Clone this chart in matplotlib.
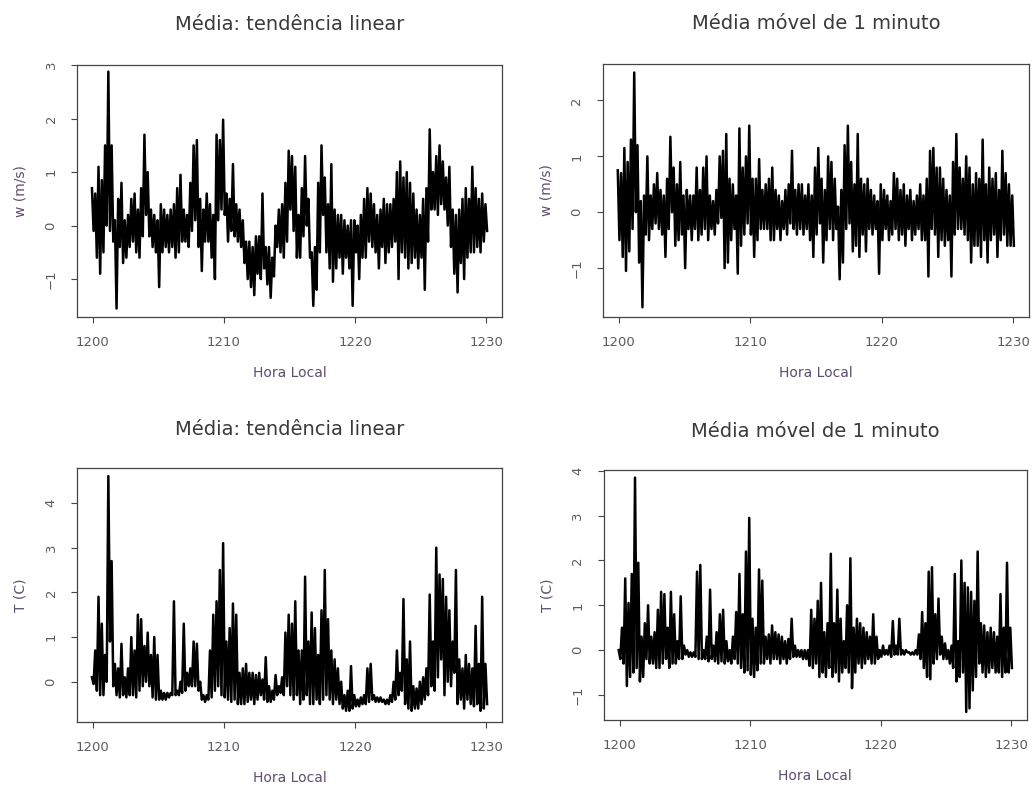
import numpy as np
import matplotlib
matplotlib.use('Agg')
import matplotlib.pyplot as plt

plt.rcParams['font.family'] = ['DejaVu Sans']

# Minutes after 12:00, one sample every 15 s (121 samples)
minutes = np.linspace(0, 30, 121)

# Upper / lower envelope of each series within each 15 s sample
w_lin_hi = [0.7, 0.6, 1.1, 0.85, 1.5, 2.88, 1.5, 0.1, 0.5, 0.8, 0.1, 0.2, 0.5, 0.6, 0.3, 0.7,
            1.7, 1.0, 0.3, 0.2, 0.1, 0.4, 0.3, 0.2, 0.3, 0.4, 0.7, 0.95, 0.3, 0.2, 0.8, 1.5,
            1.6, 0.5, 0.3, 0.6, 0.4, 0.2, 1.7, 1.6, 1.98, 0.6, 0.5, 1.15, 0.4, 0.3, 0.1, -0.3,
            -0.3, -0.4, -0.2, -0.2, 0.6, -0.4, -0.4, -0.6, 0.0, 0.3, 0.4, 0.8, 1.4, 1.3, 1.1, 0.2,
            0.7, 1.3, 0.5, -0.5, -0.4, 0.8, 1.5, 0.9, 0.4, 1.15, 0.3, 0.2, 0.2, 0.1, 0.0, 0.1,
            0.1, 0.0, 0.2, 0.5, 0.7, 0.6, 0.4, 0.2, 0.3, 0.5, 0.4, 0.4, 0.5, 1.0, 1.2, 0.9,
            1.0, 0.8, 0.6, 0.3, 0.2, 0.5, 0.7, 1.8, 1.0, 1.3, 1.5, 1.2, 0.9, 1.1, 0.3, 0.2,
            0.3, 0.5, 0.7, 0.5, 1.1, 0.7, 0.5, 0.6, 0.4]
w_lin_lo = [-0.1, -0.6, -0.9, -0.5, 0.0, -0.1, -0.3, -1.55, -0.4, -0.7, -0.6, -0.4, -0.3, -0.5, -0.6, -0.2,
            0.2, -0.2, -0.4, -0.5, -1.15, -0.5, -0.4, -0.5, -0.4, -0.6, -0.5, -0.3, -0.3, -0.4, -0.1, 0.1,
            -0.4, -0.85, -0.3, -0.3, -0.6, -1.0, 0.1, 0.3, 0.2, -0.3, -0.1, -0.2, -0.3, -0.4, -0.7, -1.0,
            -1.15, -1.3, -0.9, -1.0, -0.8, -1.1, -1.35, -0.95, -0.4, -0.5, -0.6, -0.3, 0.3, -0.1, -0.6, -0.6,
            -0.2, 0.0, -0.6, -1.5, -1.2, -0.5, 0.2, -0.5, -0.8, -1.05, -0.8, -0.6, -0.9, -0.6, -0.8, -1.5,
            -0.5, -1.0, -0.6, -0.6, -0.3, -0.4, -0.5, -0.8, -0.4, -0.7, -0.5, -0.4, -0.3, -1.0, -0.5, -0.6,
            -0.8, -0.7, -0.6, -0.8, -0.6, -1.2, -0.3, 0.3, 0.3, 0.2, 0.4, 0.3, 0.0, -0.4, -0.9, -1.25,
            -0.7, -1.0, -0.6, -0.5, -0.5, -0.4, -0.5, -0.3, -0.1]

w_mm_hi = [0.75, 0.7, 1.15, 0.9, 1.3, 2.5, 1.2, 0.2, 0.3, 1.0, 0.3, 0.5, 0.7, 0.4, 0.3, 0.6,
           1.35, 0.8, 0.5, 0.9, 0.3, 0.4, 0.3, 0.3, 0.8, 0.4, 0.8, 1.0, 0.3, 0.2, 0.4, 1.0,
           1.1, 1.4, 0.6, 0.5, 0.3, 1.5, 0.8, 1.0, 1.55, 0.6, 0.6, 0.95, 0.4, 0.5, 0.6, 0.8,
           0.4, 0.3, 0.2, 0.4, 0.5, 1.1, 0.4, 0.5, 0.5, 0.3, 0.5, 0.3, 0.8, 1.15, 0.6, 0.4,
           1.0, 0.9, 0.6, 0.1, 0.4, 1.2, 1.55, 0.9, 0.5, 1.4, 0.6, 0.5, 0.6, 0.4, 0.3, 0.2,
           0.5, 0.4, 0.3, 0.2, 0.7, 0.6, 0.4, 0.5, 0.3, 0.4, 0.2, 0.3, 0.5, 0.3, 0.6, 1.1,
           1.15, 0.8, 0.8, 0.6, 0.4, 0.3, 0.9, 1.4, 0.8, 0.6, 1.0, 0.8, 0.5, 0.7, 0.6, 1.3,
           0.5, 0.8, 0.6, 0.7, 0.4, 1.1, 0.7, 0.5, 0.3]
w_mm_lo = [-0.5, -0.8, -1.05, -0.7, -0.3, 0.0, -0.9, -1.7, -0.4, -0.5, -0.3, -0.2, -0.3, -0.4, -0.8, -0.3,
           0.0, -0.6, -0.5, -0.4, -1.0, -0.3, -0.5, -0.3, -0.5, -0.4, -0.3, -0.5, -0.3, -0.4, -0.2, -0.1,
           -1.0, -0.9, -0.5, -0.3, -1.1, -0.6, -0.4, -0.2, -0.4, -0.8, -0.5, -0.3, -0.3, -0.3, -0.5, -0.5,
           -0.3, -0.5, -0.3, -0.4, -0.2, -0.3, -0.4, -0.3, -0.4, -0.3, -0.5, -0.8, -0.4, -0.2, -0.9, -0.5,
           -0.3, -0.5, -0.3, -1.2, -0.9, -0.3, -0.2, -0.7, -0.6, -0.8, -0.4, -0.7, -0.3, -0.4, -0.3, -1.1,
           -0.5, -0.3, -0.5, -0.4, -0.3, -0.5, -0.4, -0.6, -0.3, -0.5, -0.4, -0.3, -0.5, -0.5, -1.15, -0.3,
           -0.4, -0.8, -0.5, -0.6, -0.5, -1.15, -0.4, -0.3, -0.3, -0.4, -0.5, -0.9, -0.6, -0.6, -0.8, -0.5,
           -0.9, -0.5, -0.4, -0.8, -0.5, -0.4, -0.6, -0.6, -0.6]

t_lin_hi = [0.1, 0.7, 1.9, 1.3, 0.6, 4.6, 2.7, 0.4, 0.3, 0.85, 0.1, 0.3, 1.0, 0.7, 1.5, 1.4,
            0.8, 1.1, 0.6, 1.0, 0.6, -0.2, -0.25, -0.25, -0.25, 1.8, -0.2, 0.0, 1.3, 0.2, 0.3, 0.9,
            0.85, 0.0, -0.3, -0.3, 0.7, 1.5, 1.8, 2.5, 3.1, 0.9, 1.2, 1.75, 1.5, 0.2, 0.3, 0.4,
            0.2, 0.2, 0.15, 0.2, 0.05, 0.55, -0.1, -0.2, 0.15, -0.1, 0.1, 1.1, 1.5, 1.3, 1.8, 0.7,
            0.7, 2.35, 0.9, 1.55, 1.2, 0.6, 1.6, 2.5, 1.4, 0.7, 0.5, 0.3, 0.0, -0.3, -0.2, 0.35,
            -0.3, -0.4, -0.35, -0.3, 0.3, 0.4, -0.3, -0.35, -0.35, -0.4, -0.4, -0.3, 0.0, 0.7, 0.2, 1.85,
            0.5, 0.9, -0.1, -0.15, 0.0, 0.1, 0.3, 1.95, 0.9, 3.0, 2.4, 2.3, 1.9, 1.6, 0.9, 2.5,
            0.5, 0.3, 0.6, 0.4, 0.3, 1.25, 0.4, 1.9, 0.4]
t_lin_lo = [-0.05, -0.2, -0.3, -0.3, 0.0, 0.9, -0.1, -0.3, -0.35, -0.3, -0.35, -0.3, -0.3, -0.35, -0.2, -0.1,
            0.0, -0.1, -0.35, -0.4, -0.4, -0.4, -0.4, -0.35, -0.3, -0.3, -0.3, -0.25, -0.2, -0.1, -0.1, -0.1,
            -0.2, -0.4, -0.45, -0.4, -0.35, -0.2, -0.1, -0.3, -0.35, -0.4, -0.45, -0.4, -0.5, -0.5, -0.5, -0.45,
            -0.4, -0.5, -0.4, -0.3, -0.4, -0.45, -0.45, -0.4, -0.3, -0.25, -0.3, -0.1, -0.3, -0.4, -0.3, -0.5,
            -0.4, -0.3, -0.5, -0.5, -0.4, -0.5, -0.4, -0.3, -0.4, -0.5, -0.4, -0.5, -0.6, -0.65, -0.65, -0.6,
            -0.55, -0.55, -0.5, -0.5, -0.45, -0.4, -0.45, -0.45, -0.45, -0.5, -0.5, -0.45, -0.4, -0.3, -0.2, -0.5,
            -0.6, -0.65, -0.6, -0.6, -0.5, -0.4, -0.3, -0.1, -0.2, 0.1, 0.5, -0.3, 0.0, -0.1, 0.2, -0.5,
            -0.4, -0.6, -0.4, -0.5, -0.55, -0.5, -0.65, -0.6, -0.5]

t_mm_hi = [0.0, 0.5, 1.6, 1.05, 1.7, 3.85, 1.95, 0.3, 0.6, 1.0, 0.3, 0.4, 0.9, 1.3, 1.25, 0.5,
           1.3, 0.8, 0.2, 1.2, 0.1, 0.0, -0.05, -0.05, 1.75, 1.9, 0.0, 0.3, 1.35, 0.1, 0.4, 0.8,
           0.9, 0.2, 0.0, 0.3, 0.85, 1.7, 0.8, 2.2, 2.95, 0.7, 0.5, 1.8, 1.55, 0.3, 0.35, 0.55,
           0.4, 0.35, 0.3, 0.2, 0.25, 0.7, 0.1, 0.0, 0.0, 0.0, 0.0, 0.9, 0.7, 1.1, 1.5, 0.4,
           0.6, 2.15, 0.6, 1.35, 0.7, 0.2, 1.0, 2.05, 0.5, 0.7, 0.6, 0.5, 0.4, 0.3, 0.8, 0.3,
           0.0, 0.1, 0.0, 0.1, 0.65, 0.1, 0.7, 0.0, 0.0, -0.05, -0.05, 0.0, 0.35, 0.85, 0.6, 1.75,
           1.85, 0.8, 1.15, 0.3, 0.15, 0.0, 0.1, 1.7, 0.2, 2.0, 1.5, 1.4, 1.3, 1.1, 2.2, 0.6,
           0.55, 0.4, 0.5, 0.4, 0.3, 1.25, 0.5, 1.95, 0.5]
t_mm_lo = [-0.2, -0.3, -0.8, -0.6, -0.5, -0.4, -0.7, -0.6, -0.2, -0.3, -0.3, -0.4, -0.4, -0.3, -0.2, -0.4,
           -0.3, -0.3, -0.2, -0.2, -0.1, -0.15, -0.15, -0.15, -0.2, -0.2, -0.2, -0.25, -0.2, -0.25, -0.3, -0.25,
           -0.3, -0.25, -0.3, -0.2, -0.3, -0.4, -0.5, -0.45, -0.55, -0.6, -0.45, -0.3, -0.3, -0.2, -0.3, -0.2,
           -0.2, -0.3, -0.2, -0.3, -0.2, -0.15, -0.15, -0.15, -0.2, -0.2, -0.35, -0.4, -0.3, -0.6, -0.5, -0.6,
           -0.4, -0.6, -0.5, -0.7, -0.5, -0.4, -0.5, -0.85, -0.5, -0.3, -0.4, -0.3, -0.2, -0.3, -0.3, -0.2,
           -0.15, -0.1, -0.1, -0.15, -0.1, -0.1, -0.1, -0.1, -0.05, -0.1, -0.1, -0.1, -0.2, -0.4, -0.6, -0.65,
           -0.3, -0.2, -0.1, -0.2, -0.2, -0.3, -0.4, -0.7, -0.6, -0.5, -1.38, -1.3, -0.9, -0.6, -0.3, -0.5,
           -0.6, -0.5, -0.4, -0.5, -0.5, -0.6, -0.5, -0.5, -0.4]

panels = [
    # (hi, lo, title, ylabel, yticks, ylim, axes rect in figure fraction)
    (w_lin_hi, w_lin_lo, 'Média: tendência linear', 'w (m/s)', [-1, 0, 1, 2, 3],
     (-1.71, 3.0), [0.0745, 0.5997, 0.411, 0.318]),
    (w_mm_hi, w_mm_lo, 'Média móvel de 1 minuto', 'w (m/s)', [-1, 0, 1, 2],
     (-1.875, 2.66), [0.583, 0.5997, 0.412, 0.320]),
    (t_lin_hi, t_lin_lo, 'Média: tendência linear', 'T (C)', [0, 1, 2, 3, 4],
     (-0.9, 4.78), [0.0745, 0.0884, 0.411, 0.3206]),
    (t_mm_hi, t_mm_lo, 'Média móvel de 1 minuto', 'T (C)', [-1, 0, 1, 2, 3, 4],
     (-1.56, 4.02), [0.584, 0.0909, 0.409, 0.3157]),
]

tick_col = '#5c5a62'
label_col = '#5e4e6e'

fig = plt.figure(figsize=(10.34, 7.92), dpi=100)

for hi, lo, title, ylabel, yticks, ylim, rect in panels:
    ax = fig.add_axes(rect)
    # alternate between upper and lower envelope to mimic the dense raw trace
    x = np.column_stack([minutes - 0.0625, minutes + 0.0625]).ravel() + 1200
    y = np.column_stack([hi, lo]).ravel()
    ax.plot(x, y, color='black', linewidth=1.8)

    ax.set_xlim(1198.8, 1231.2)
    ax.set_ylim(*ylim)
    ax.set_xticks([1200, 1210, 1220, 1230])
    ax.set_yticks(yticks)
    ax.tick_params(direction='out', length=4, width=0.8, colors='#444444',
                   labelcolor=tick_col, labelsize=9.5, pad=10)
    for lab in ax.get_yticklabels():
        lab.set_rotation(90)
        lab.set_va('center')
    for sp in ax.spines.values():
        sp.set_color('#444444')
        sp.set_linewidth(0.9)

    ax.set_xlabel('Hora Local', fontsize=10, color=label_col, labelpad=12)
    ax.set_ylabel(ylabel, fontsize=10, color=label_col, labelpad=12)
    ax.set_title(title, fontsize=14, color='#3a3a3a', pad=25 if rect[1] > 0.5 else 24)

fig.savefig('out.png', dpi=100)
plt.close(fig)
